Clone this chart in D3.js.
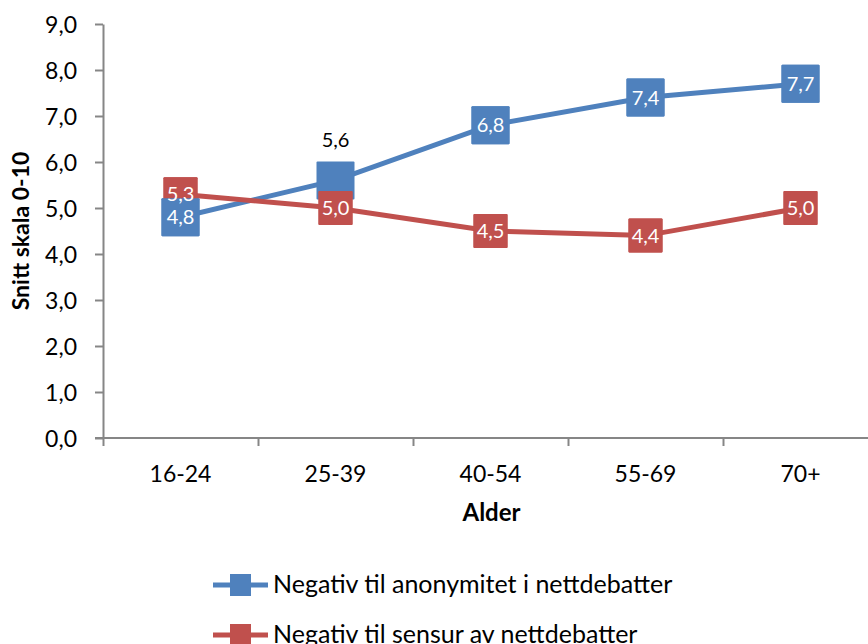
<html>
<head>
<meta charset="utf-8">
<script src="https://d3js.org/d3.v7.min.js"></script>
<style>
  body { margin: 0; background: #fff; }
  text { font-family: Lato, "Open Sans", sans-serif; fill: #000; }
  .axis path, .axis line { stroke: #868686; stroke-width: 2; }
</style>
</head>
<body>
<svg id="chart" width="868" height="644"></svg>
<script>
// data
var categories = ["16-24", "25-39", "40-54", "55-69", "70+"];
var anonymitet = [4.8, 5.6, 6.8, 7.4, 7.7];
var sensur = [5.3, 5.0, 4.5, 4.4, 5.0];
var seriesNames = ["Negativ til anonymitet i nettdebatter", "Negativ til sensur av nettdebatter"];
var yTicks = [0, 1, 2, 3, 4, 5, 6, 7, 8, 9];
var labelAbove = ["25-39"];   // blue label sits above the marker here

var svg = d3.select("#chart");
var plotLeft = 103, plotRight = 878, plotTop = 24, plotBottom = 438;

var x = d3.scaleBand().domain(categories).range([plotLeft, plotRight]).padding(0);
var xEdge = d3.scaleLinear().domain([0, categories.length]).range([plotLeft, plotRight]);
var y = d3.scaleLinear().domain([0, 9]).range([plotBottom, plotTop]);

var fmt = function (d) { return d.toFixed(1).replace(".", ","); };

// y axis
var yAxis = svg.append("g").attr("class", "axis")
    .attr("transform", "translate(" + plotLeft + ",0)")
    .call(d3.axisLeft(y).tickValues(yTicks).tickFormat(fmt).tickSize(8).tickSizeOuter(0).tickPadding(18));
yAxis.selectAll("text").style("font-size", "23px").attr("dy", "0.35em");

// x axis: ticks at the band edges, labels at the centres
var xAxis = svg.append("g").attr("class", "axis")
    .attr("transform", "translate(0," + plotBottom + ")")
    .call(d3.axisBottom(xEdge).tickValues(d3.range(categories.length + 1)).tickFormat("").tickSize(8).tickSizeOuter(0));
xAxis.select(".domain").remove();
xAxis.append("line")
    .attr("x1", plotLeft - 8).attr("x2", 868)
    .attr("y1", 0).attr("y2", 0);

svg.append("g").selectAll("text").data(categories).enter().append("text")
    .attr("x", function (d) { return x(d) + x.bandwidth() / 2; })
    .attr("y", plotBottom + 44)
    .attr("text-anchor", "middle")
    .style("font-size", "23px")
    .text(function (d) { return d; });

// axis titles
svg.append("text")
    .attr("x", (plotLeft + plotRight) / 2 + 1).attr("y", 521)
    .attr("text-anchor", "middle")
    .style("font-size", "24px").style("font-weight", "bold")
    .text("Alder");
svg.append("text")
    .attr("transform", "translate(29," + (plotTop + plotBottom) / 2 + ") rotate(-90)")
    .attr("text-anchor", "middle")
    .style("font-size", "23px").style("font-weight", "bold")
    .text("Snitt skala 0-10");

var series = [
  { name: seriesNames[0], values: anonymitet, color: "#4F81BD", box: 38 },
  { name: seriesNames[1], values: sensur, color: "#C0504D", box: 34 }
];

var cxOf = function (i) { return x(categories[i]) + x.bandwidth() / 2; };
var line = d3.line()
    .x(function (d, i) { return cxOf(i); })
    .y(function (d) { return y(d); });

// lines and markers
series.forEach(function (s) {
  svg.append("path")
      .datum(s.values)
      .attr("d", line)
      .attr("fill", "none")
      .attr("stroke", s.color)
      .attr("stroke-width", 5);
  svg.append("g").selectAll("rect").data(s.values).enter().append("rect")
      .attr("x", function (d, i) { return cxOf(i) - s.box / 2; })
      .attr("y", function (d) { return y(d) - s.box / 2; })
      .attr("width", s.box).attr("height", s.box)
      .attr("rx", 1)
      .attr("fill", s.color);
});

// data label boxes (red first, blue on top), then all label texts
var boxes = svg.append("g");
var texts = svg.append("g");
[series[1], series[0]].forEach(function (s) {
  s.values.forEach(function (v, i) {
    var cx = cxOf(i);
    var above = s === series[0] && labelAbove.indexOf(categories[i]) >= 0;
    if (above) {
      texts.append("text")
          .attr("x", cx).attr("y", y(v) - 40)
          .attr("dy", "0.35em")
          .attr("text-anchor", "middle")
          .style("font-size", "20px")
          .text(fmt(v));
    } else {
      boxes.append("rect")
          .attr("x", cx - s.box / 2).attr("y", y(v) - s.box / 2)
          .attr("width", s.box).attr("height", s.box)
          .attr("rx", 1)
          .attr("fill", s.color);
      texts.append("text")
          .attr("x", cx).attr("y", y(v))
          .attr("dy", "0.35em")
          .attr("text-anchor", "middle")
          .style("font-size", "20px")
          .style("fill", "#fff")
          .text(fmt(v));
    }
  });
});

// legend
var legend = svg.append("g").selectAll("g").data(series).enter().append("g")
    .attr("transform", function (d, i) { return "translate(213," + (585 + i * 50) + ")"; });
legend.append("line")
    .attr("x1", 0).attr("x2", 55).attr("y1", 0).attr("y2", 0)
    .attr("stroke", function (d) { return d.color; })
    .attr("stroke-width", 5);
legend.append("rect")
    .attr("x", 17).attr("y", -11).attr("width", 21).attr("height", 22)
    .attr("fill", function (d) { return d.color; });
legend.append("text")
    .attr("x", 60).attr("y", 8)
    .style("font-size", "25px")
    .text(function (d) { return d.name; });
</script>
</body>
</html>
